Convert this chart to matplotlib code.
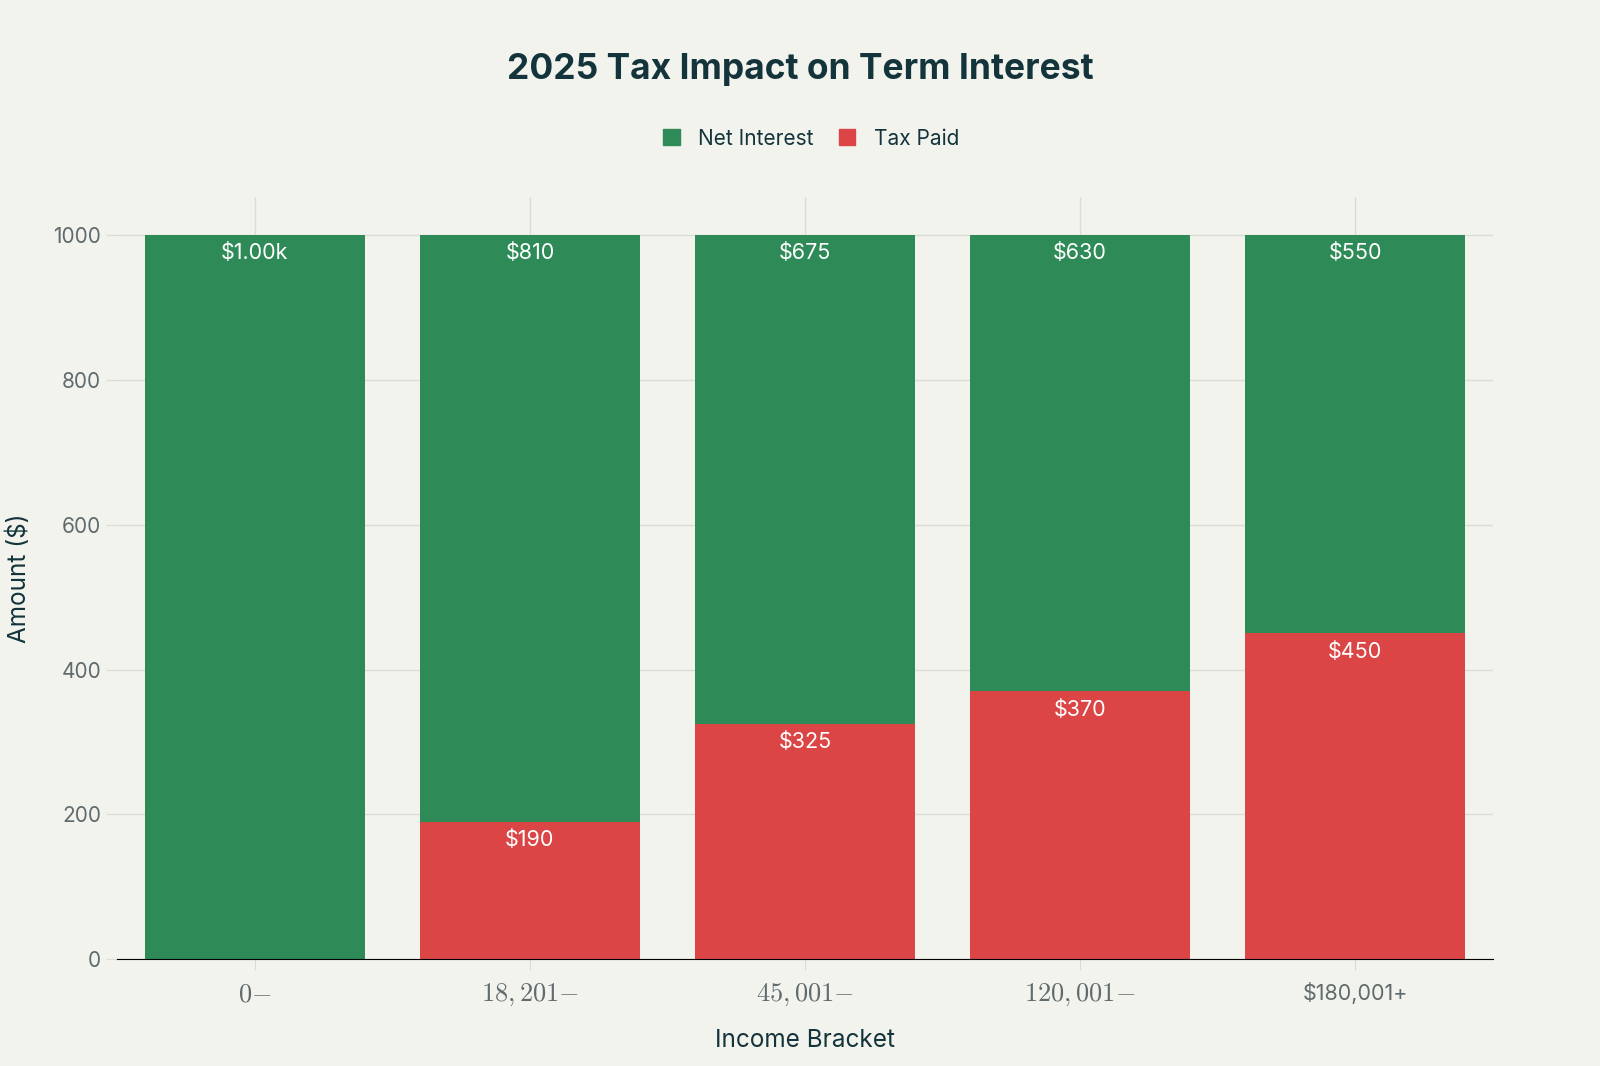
#!/usr/bin/env python

""" Stacked bars of tax paid vs net interest per income bracket. """

import matplotlib
matplotlib.use("Agg")
import matplotlib.pyplot as plt
from matplotlib.patches import Patch

brackets = [r"$0{-}$", r"$18,201{-}$", r"$45,001{-}$", r"$120,001{-}$", "$180,001+"]
tax_paid = [0, 190, 325, 370, 450]
net_interest = [1000, 810, 675, 630, 550]
net_labels = ["$1.00k", "$810", "$675", "$630", "$550"]
tax_labels = ["", "$190", "$325", "$370", "$450"]

GREEN = "#2E8B57"
RED = "#DB4545"
BG = "#F3F3EE"
DARK = "#13343B"
GREY = "#5F6B6D"

plt.rcParams["font.family"] = ["Inter", "DejaVu Sans"]
plt.rcParams["mathtext.fontset"] = "cm"


def run():
    fig = plt.figure(figsize=(16, 10.66), dpi=100, facecolor=BG)
    ax = fig.add_axes([0.0733, 0.100, 0.8597, 0.715])
    ax.set_facecolor(BG)

    x = list(range(len(brackets)))
    ax.bar(x, tax_paid, width=0.8, color=RED, zorder=3)
    ax.bar(x, net_interest, width=0.8, bottom=tax_paid, color=GREEN, zorder=3)

    for i in x:
        top = tax_paid[i] + net_interest[i]
        ax.annotate(net_labels[i], (i, top), xytext=(0, -6), textcoords="offset points",
                    ha="center", va="top", color="white", fontsize=15.5, zorder=4)
        if tax_labels[i]:
            ax.annotate(tax_labels[i], (i, tax_paid[i]), xytext=(0, -6),
                        textcoords="offset points", ha="center", va="top",
                        color="white", fontsize=15.5, zorder=4)

    ax.set_xlim(-0.5, 4.5)
    ax.set_ylim(0, 1052)
    ax.set_yticks([0, 200, 400, 600, 800, 1000])
    ax.set_xticks(x)
    ax.set_xticklabels(brackets)

    ax.grid(True, color="#DCDCD6", linewidth=1, zorder=0)
    ax.tick_params(axis="both", colors="#DCDCD6", labelcolor=GREY, length=8, labelsize=15)
    ax.tick_params(axis="x", pad=8)
    for lbl in ax.get_xticklabels()[:-1]:
        lbl.set_fontsize(19)
    ax.get_xticklabels()[-1].set_fontsize(15.5)
    for side in ["top", "right", "left"]:
        ax.spines[side].set_visible(False)
    ax.spines["bottom"].set_color("black")
    ax.spines["bottom"].set_zorder(5)

    ax.set_xlabel("Income Bracket", fontsize=17.5, color=DARK, labelpad=15)
    ax.set_ylabel("Amount ($)", fontsize=17.5, color=DARK, labelpad=16)

    fig.text(0.5, 0.935, "2025 Tax Impact on Term Interest", ha="center", va="center",
             fontsize=25.5, fontweight="bold", color=DARK)

    handles = [Patch(color=GREEN, label="Net Interest"), Patch(color=RED, label="Tax Paid")]
    fig.legend(handles=handles, loc="center", bbox_to_anchor=(0.507, 0.870), ncol=2,
               frameon=False, fontsize=15, handlelength=0.8, handleheight=0.8,
               columnspacing=1.2, handletextpad=0.9, labelcolor=DARK)

    fig.savefig("out.png", dpi=100, facecolor=BG)


if __name__ == "__main__":
    run()
